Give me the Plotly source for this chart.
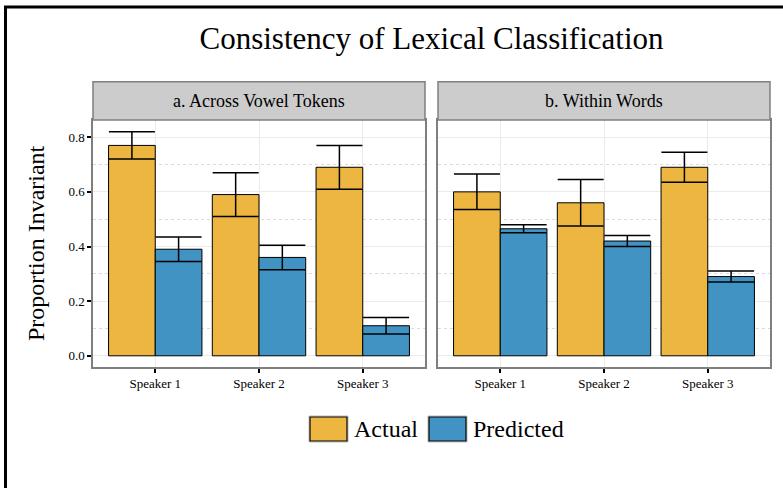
import plotly.graph_objects as go

speakers = ["Speaker 1", "Speaker 2", "Speaker 3"]

a_actual = [0.77, 0.59, 0.69]
a_actual_err = [0.05, 0.08, 0.08]
a_pred = [0.39, 0.36, 0.11]
a_pred_err = [0.045, 0.045, 0.03]

b_actual = [0.60, 0.56, 0.69]
b_actual_err = [0.065, 0.085, 0.055]
b_pred = [0.465, 0.42, 0.29]
b_pred_err = [0.015, 0.02, 0.02]

panel_titles = ["a. Across Vowel Tokens", "b. Within Words"]
series_names = ["Actual", "Predicted"]
colors = ["#ecb640", "#4193c4"]

FONT = "Liberation Serif"
W, H = 783, 488
L, R, T, B = 93, 13, 120, 121
PW, PH = W - L - R, H - T - B


def px2x(px):
    return (px - L) / PW


def py2y(py):
    return (H - B - py) / PH


fig = go.Figure()

panels = [
    ("x", "y", a_actual, a_actual_err, a_pred, a_pred_err),
    ("x2", "y2", b_actual, b_actual_err, b_pred, b_pred_err),
]
for i, (xa, ya, act, act_e, pr, pr_e) in enumerate(panels):
    for j, (vals, errs) in enumerate([(act, act_e), (pr, pr_e)]):
        fig.add_trace(go.Bar(
            x=speakers, y=vals, name=series_names[j],
            xaxis=xa, yaxis=ya, showlegend=False,
            marker=dict(color=colors[j], line=dict(color="black", width=1)),
            error_y=dict(type="data", array=errs, visible=True,
                         color="black", thickness=1.5, width=23),
            offsetgroup=str(j),
        ))

d1 = px2x(425)
d2 = px2x(438)

axis_common = dict(
    showline=True, linecolor="#7f7f7f", linewidth=1.5, mirror=True,
    showgrid=True, gridcolor="#ebebeb", gridwidth=1, zeroline=False,
)

fig.update_layout(
    width=W, height=H,
    margin=dict(l=L, r=R, t=T, b=B),
    paper_bgcolor="white", plot_bgcolor="white",
    barmode="group", bargap=0.1, bargroupgap=0,
    font=dict(family=FONT, color="black"),
    showlegend=False,
    title=dict(text="Consistency of Lexical Classification",
               x=0.5, xref="paper", xanchor="center",
               y=1 - 38 / H, yanchor="middle",
               font=dict(family=FONT, size=31, color="black")),
    xaxis=dict(domain=[0, d1], type="category", range=[-0.6, 2.6],
               ticks="outside", ticklen=4, tickwidth=1.5, tickcolor="black",
               tickfont=dict(family=FONT, size=13, color="black"),
               anchor="y", **axis_common),
    xaxis2=dict(domain=[d2, 1], type="category", range=[-0.6, 2.6],
                ticks="outside", ticklen=4, tickwidth=1.5, tickcolor="black",
                tickfont=dict(family=FONT, size=13, color="black"),
                anchor="y2", **axis_common),
    yaxis=dict(range=[-0.041, 0.863], dtick=0.2, tick0=0, tickformat=".1f",
               ticks="outside", ticklen=4, tickwidth=1.5, tickcolor="black",
               tickfont=dict(family=FONT, size=13, color="black"),
               minor=dict(tick0=0.1, dtick=0.2, showgrid=True,
                          gridcolor="#dadada", griddash="dot", gridwidth=1),
               anchor="x", **axis_common),
    yaxis2=dict(range=[-0.041, 0.863], dtick=0.2, tick0=0,
                showticklabels=False, ticks="",
                minor=dict(tick0=0.1, dtick=0.2, showgrid=True,
                           gridcolor="#dadada", griddash="dot", gridwidth=1),
                anchor="x2", matches="y", **axis_common),
)

shapes = []
annotations = []

# Facet strips
strip_top = py2y(81.7)
for (x0, x1), txt in zip([(0, d1), (d2, 1)], panel_titles):
    shapes.append(dict(type="rect", xref="paper", yref="paper",
                       x0=x0, x1=x1, y0=1.0, y1=strip_top,
                       fillcolor="#cccccc", line=dict(color="#7f7f7f", width=1.5),
                       layer="above"))
    annotations.append(dict(text=txt, xref="paper", yref="paper",
                            x=(x0 + x1) / 2, y=(1.0 + strip_top) / 2,
                            xanchor="center", yanchor="middle", showarrow=False,
                            font=dict(family=FONT, size=18, color="black")))

# Y axis title
annotations.append(dict(text="Proportion Invariant", xref="paper", yref="paper",
                        x=px2x(36), y=py2y(243), textangle=-90,
                        xanchor="center", yanchor="middle", showarrow=False,
                        font=dict(family=FONT, size=24, color="black")))

# Legend (drawn manually for ggplot-sized keys)
leg = [(310, 347, 352), (429, 466, 471)]
for (sx0, sx1, tx), name, col in zip(leg, series_names, colors):
    shapes.append(dict(type="rect", xref="paper", yref="paper",
                       x0=px2x(sx0 - 1), x1=px2x(sx1 + 1),
                       y0=py2y(442), y1=py2y(416),
                       fillcolor="rgba(0,0,0,0)", line=dict(color="#bbbbbb", width=1)))
    shapes.append(dict(type="rect", xref="paper", yref="paper",
                       x0=px2x(sx0), x1=px2x(sx1),
                       y0=py2y(441), y1=py2y(417),
                       fillcolor=col, line=dict(color="black", width=1.2)))
    annotations.append(dict(text=name, xref="paper", yref="paper",
                            x=px2x(tx), y=py2y(429),
                            xanchor="left", yanchor="middle", showarrow=False,
                            font=dict(family=FONT, size=24, color="black")))

# Outer frame (left and top edges)
shapes.append(dict(type="line", xref="paper", yref="paper",
                   x0=px2x(5.5), x1=px2x(5.5), y0=py2y(6), y1=py2y(500),
                   line=dict(color="black", width=3)))
shapes.append(dict(type="line", xref="paper", yref="paper",
                   x0=px2x(4), x1=px2x(790), y0=py2y(7), y1=py2y(7),
                   line=dict(color="black", width=3)))

fig.update_layout(shapes=shapes, annotations=annotations)

fig.write_html(
    "out.html",
    config={"displayModeBar": False},
    post_script="document.body.style.margin='0';document.body.style.overflow='hidden';",
)
